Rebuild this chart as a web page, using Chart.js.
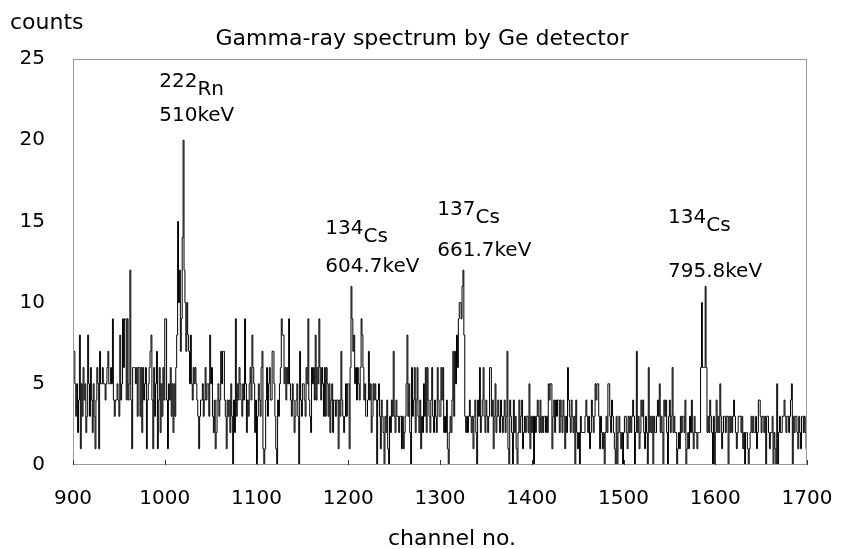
<!DOCTYPE html>
<html><head><meta charset="utf-8">
<script src="https://cdn.jsdelivr.net/npm/chart.js@4/dist/chart.umd.min.js"></script>
<style>html,body{margin:0;padding:0;background:#fff;}canvas{display:block;}</style>
</head><body>
<canvas id="c" width="845" height="549"></canvas>
<script>
// Counts per channel (channels 900 .. 1700)
const counts0900 = [
 7,7,5,3,5,2,4,8,1,5,
 3,6,4,5,2,3,8,5,3,6,
 4,2,5,3,1,4,6,5,1,7,
 5,5,6,5,5,4,5,6,7,5,
 5,6,5,9,4,3,4,4,5,4,
 3,8,4,5,9,6,9,9,4,9,
 4,5,12,4,1,6,6,6,5,6,
 3,6,6,3,6,2,6,4,5,6,
 1,4,5,6,7,8,4,1,6,3,
 5,7,1,4,6,2,5,3,6,4];
const counts1000 = [
 9,9,4,1,5,4,6,3,5,2,
 5,3,6,8,15,10,12,7,9,14,
 20,12,10,7,10,8,7,5,8,5,
 4,6,5,6,5,4,3,1,3,4,
 4,5,3,4,6,4,5,5,3,8,
 5,6,3,2,4,1,2,4,5,3,
 4,7,5,7,7,4,3,1,4,3,
 4,2,5,3,0,4,2,9,3,5,
 4,6,5,4,3,5,4,9,5,2,
 4,3,5,6,4,8,6,5,2,4];
const counts1100 = [
 0,3,5,4,3,6,7,1,0,1,
 4,6,3,5,6,4,4,7,7,5,
 3,1,0,4,3,5,6,9,8,8,
 5,6,4,6,5,9,5,4,3,5,
 4,2,3,4,5,3,0,7,4,3,
 5,5,4,3,6,5,9,4,3,2,
 6,5,6,4,8,4,6,5,9,6,
 4,6,5,3,6,3,6,5,3,5,
 2,4,5,2,4,4,3,4,4,1,
 4,3,7,4,3,2,3,5,3,5];
const counts1200 = [
 5,1,6,11,9,7,8,5,6,4,
 6,5,4,6,9,8,6,4,5,3,
 3,4,7,4,5,2,3,5,4,5,
 4,0,4,5,3,1,4,3,2,0,
 3,2,4,1,0,3,2,4,3,7,
 3,2,4,3,3,2,3,3,1,3,
 1,2,3,5,8,3,5,2,0,6,
 3,4,6,2,4,6,3,2,4,1,
 3,2,5,3,6,2,6,4,3,2,
 4,6,3,2,4,3,2,6,4,3];
const counts1300 = [
 3,6,4,6,2,3,2,4,1,0,
 2,3,2,4,7,3,7,5,8,6,
 9,10,10,9,11,12,8,3,2,3,
 2,3,4,3,2,3,1,3,4,2,
 0,4,3,6,2,3,4,6,3,2,
 4,3,2,3,6,6,3,4,1,3,
 5,2,3,4,3,2,4,3,2,3,
 4,2,3,7,1,0,4,3,2,0,
 4,2,3,1,0,2,4,2,3,4,
 1,2,3,2,3,3,2,5,1,3];
const counts1400 = [
 2,3,0,3,2,3,4,3,2,4,
 2,3,2,3,3,2,3,2,5,4,
 5,5,1,3,4,2,4,3,4,4,
 2,4,3,2,4,3,1,3,2,6,
 4,3,2,4,3,2,3,0,4,2,
 1,2,0,3,2,2,2,2,3,4,
 3,2,3,1,2,4,3,2,3,5,
 4,5,5,3,1,3,2,1,2,0,
 2,3,2,5,5,3,2,4,3,2,
 1,0,3,0,2,3,2,1,2,0];
const counts1500 = [
 2,3,3,2,1,3,2,3,2,3,
 4,3,0,2,7,2,3,1,2,4,
 3,4,2,1,3,2,0,6,2,3,
 2,3,0,3,2,2,3,4,3,5,
 2,3,2,0,4,3,4,2,0,3,
 4,2,3,6,2,3,2,2,0,1,
 2,1,3,2,3,3,2,4,0,1,
 2,1,3,2,4,2,1,3,2,2,
 1,2,2,2,6,10,6,6,6,11,
 6,2,3,2,4,3,2,0,3,0];
const counts1600 = [
 2,4,2,3,2,5,3,1,2,3,
 3,2,3,3,0,3,2,3,2,3,
 4,3,2,1,2,3,3,3,2,3,
 1,2,0,2,2,1,0,1,2,3,
 2,3,2,2,3,1,2,4,4,3,
 2,3,3,2,3,0,3,3,2,1,
 2,2,3,0,2,1,0,5,0,2,
 3,2,2,3,3,4,3,2,3,3,
 2,3,4,5,0,3,2,3,3,2,
 1,3,2,1,3,3,2,3,2,1,
 1];
const firstChannel = 900;
const xTickValues = [900,1000,1100,1200,1300,1400,1500,1600,1700];
const yTickValues = [0,5,10,15,20,25];
const titleText = 'Gamma-ray spectrum by Ge detector';
const yAxisTitle = 'counts';
const xAxisTitle = 'channel no.';
// peak annotations: mass number, element, energy
const peakMass    = ['222','134','137','134'];
const peakElement = ['Rn','Cs','Cs','Cs'];
const peakEnergy  = ['510keV','604.7keV','661.7keV','795.8keV'];
// anchor (channel of left edge, count level of the two text baselines)
const peakAnchorChannel = [994, 1175, 1297, 1548.5];
const peakMassLevel     = [23.3, 14.2, 15.4, 14.9];
const peakEnergyLevel   = [21.2, 11.9, 12.9, 11.6];

const allCounts = [].concat(counts0900, counts1000, counts1100, counts1200,
  counts1300, counts1400, counts1500, counts1600);
const points = allCounts.map((v, i) => ({x: firstChannel + i, y: v}));

const FONT = '"DejaVu Sans", "Liberation Sans", sans-serif';

const decor = {
  id: 'decor',
  afterDraw(chart) {
    const {ctx, chartArea: a, scales: {x, y}} = chart;
    ctx.save();
    // frame
    ctx.strokeStyle = '#999999';
    ctx.lineWidth = 1;
    ctx.strokeRect(Math.round(a.left) + 0.5, Math.round(a.top) + 0.5,
      Math.round(a.right - a.left) - 1, Math.round(a.bottom - a.top) - 1);
    // inward x ticks
    ctx.strokeStyle = '#333333';
    ctx.beginPath();
    xTickValues.forEach(v => {
      const px = Math.round(x.getPixelForValue(v)) + 0.5;
      ctx.moveTo(px, a.bottom);
      ctx.lineTo(px, a.bottom - 5);
    });
    ctx.stroke();
    // titles
    ctx.fillStyle = '#000';
    ctx.font = '22px ' + FONT;
    ctx.textBaseline = 'alphabetic';
    ctx.textAlign = 'left';
    ctx.fillText(yAxisTitle, 10, 29);
    ctx.textAlign = 'center';
    ctx.fillText(titleText, 422, 45);
    ctx.fillText(xAxisTitle, 452, 545);
    // peak labels
    ctx.font = '20px ' + FONT;
    ctx.textAlign = 'left';
    peakMass.forEach((m, i) => {
      const px = x.getPixelForValue(peakAnchorChannel[i]);
      const py = y.getPixelForValue(peakMassLevel[i]);
      ctx.fillText(m, px, py);
      const w = ctx.measureText(m).width;
      ctx.fillText(peakElement[i], px + w, py + 8);
      ctx.fillText(peakEnergy[i], px, y.getPixelForValue(peakEnergyLevel[i]));
    });
    ctx.restore();
  }
};

new Chart(document.getElementById('c'), {
  type: 'line',
  data: {
    datasets: [{
      data: points,
      stepped: true,
      borderColor: '#000000',
      borderWidth: 1,
      pointRadius: 0,
      fill: false,
      tension: 0
    }]
  },
  options: {
    responsive: false,
    animation: false,
    devicePixelRatio: 1,
    layout: {padding: {top: 59, right: 38, bottom: 0, left: 0}},
    plugins: {legend: {display: false}, title: {display: false}, tooltip: {enabled: false}},
    scales: {
      x: {
        type: 'linear', min: 900, max: 1700,
        afterBuildTicks: s => { s.ticks = xTickValues.map(v => ({value: v})); },
        afterFit: s => { s.height = 84; s.paddingLeft = 0; s.paddingRight = 0; },
        grid: {display: false, drawTicks: false, tickLength: 0},
        border: {display: false},
        ticks: {color: '#000', padding: 22, maxRotation: 0, autoSkip: false,
          callback: v => String(v), font: {size: 20, family: FONT}}
      },
      y: {
        type: 'linear', min: 0, max: 25,
        afterBuildTicks: s => { s.ticks = yTickValues.map(v => ({value: v})); },
        afterFit: s => { s.width = 73; s.paddingTop = 0; s.paddingBottom = 0; },
        grid: {display: false, drawTicks: false, tickLength: 0},
        border: {display: false},
        ticks: {color: '#000', padding: 28, callback: v => String(v), font: {size: 20, family: FONT}}
      }
    }
  },
  plugins: [decor]
});
</script>
</body></html>
